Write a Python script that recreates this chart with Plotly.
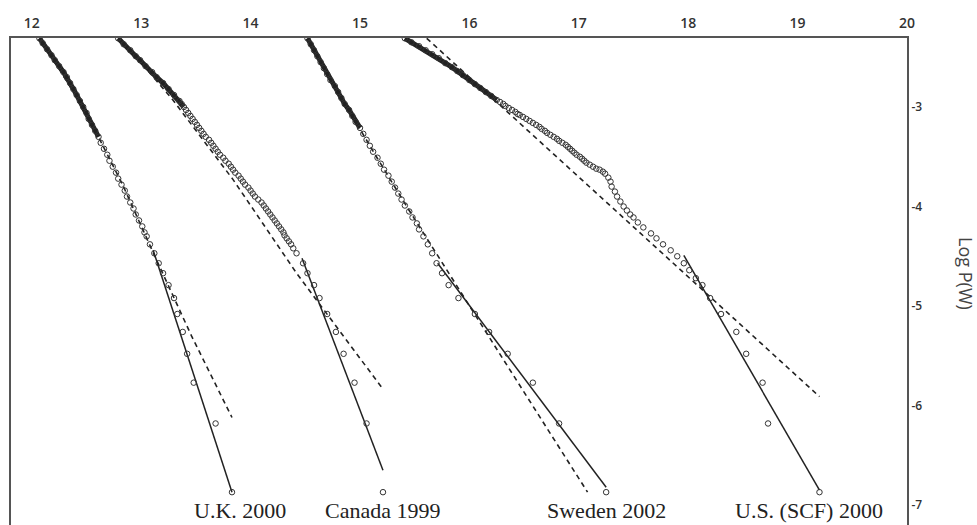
import plotly.graph_objects as go

# ---------------- data ----------------
x_ticks = [12, 13, 14, 15, 16, 17, 18, 19, 20]
y_ticks = [-3, -4, -5, -6, -7]
x_range = [11.81, 20.0]
y_range = [-7.2, -2.307]

labels = ["U.K. 2000", "Canada 1999", "Sweden 2002", "U.S. (SCF) 2000"]
label_x = [13.90, 15.21, 17.25, 19.10]

# U.K. 2000
uk_y = [-2.31, -2.36, -2.42, -2.48, -2.53, -2.59, -2.65, -2.70, -2.76, -2.82, -2.88, -2.94,
        -3.00, -3.06, -3.12, -3.18, -3.24, -3.30, -3.36, -3.42, -3.48, -3.54, -3.60, -3.66,
        -3.72, -3.78, -3.84, -3.90, -3.96, -4.02, -4.08, -4.14, -4.20, -4.26, -4.30, -4.38,
        -4.47, -4.57, -4.67, -4.79, -4.92, -5.08, -5.26, -5.48, -5.77, -6.18, -6.87]
uk_x = [12.07, 12.10, 12.14, 12.18, 12.21, 12.25, 12.29, 12.32, 12.35, 12.38, 12.41, 12.44,
        12.47, 12.50, 12.52, 12.55, 12.58, 12.61, 12.63, 12.66, 12.69, 12.71, 12.74, 12.77,
        12.79, 12.82, 12.85, 12.87, 12.90, 12.93, 12.95, 12.98, 13.01, 13.03, 13.05, 13.08,
        13.12, 13.16, 13.20, 13.25, 13.30, 13.33, 13.38, 13.42, 13.48, 13.68, 13.83]
uk_fit_x = [13.11, 13.83]
uk_fit_y = [-4.44, -6.87]
uk_dash_x = [12.07, 12.47, 12.83, 13.10, 13.46, 13.83]
uk_dash_y = [-2.31, -3.00, -3.78, -4.44, -5.30, -6.12]

# Canada 1999
ca_y = [-2.31, -2.37, -2.43, -2.49, -2.53, -2.59, -2.65, -2.70, -2.76, -2.82, -2.88,
        -2.94, -2.97, -3.00, -3.03, -3.06, -3.09, -3.12, -3.15, -3.18, -3.21, -3.24, -3.27,
        -3.30, -3.33, -3.36, -3.39, -3.42, -3.45, -3.48, -3.51, -3.54, -3.57, -3.60, -3.63,
        -3.66, -3.69, -3.72, -3.75, -3.78, -3.81, -3.84, -3.87, -3.90, -3.93, -3.96, -3.99,
        -4.02, -4.05, -4.08, -4.11, -4.14, -4.17, -4.20, -4.23, -4.26, -4.29, -4.32, -4.35,
        -4.38, -4.42, -4.47, -4.57, -4.67, -4.79, -4.92, -5.08, -5.26, -5.48, -5.77, -6.18,
        -6.87]
ca_x = [12.79, 12.84, 12.90, 12.95, 12.99, 13.04, 13.10, 13.14, 13.20, 13.25, 13.30,
        13.35, 13.37, 13.39, 13.41, 13.43, 13.45, 13.47, 13.49, 13.51, 13.53, 13.55, 13.57,
        13.59, 13.62, 13.64, 13.66, 13.68, 13.70, 13.72, 13.75, 13.77, 13.80, 13.82, 13.84,
        13.86, 13.89, 13.91, 13.93, 13.95, 13.98, 14.00, 14.02, 14.04, 14.07, 14.10, 14.12,
        14.14, 14.16, 14.18, 14.20, 14.22, 14.24, 14.26, 14.28, 14.30, 14.31, 14.33, 14.35,
        14.37, 14.39, 14.42, 14.48, 14.52, 14.58, 14.63, 14.70, 14.78, 14.85, 14.95, 15.06,
        15.21]
ca_fit_x = [14.47, 15.21]
ca_fit_y = [-4.52, -6.65]
ca_dash_x = [12.79, 13.05, 13.29, 13.84, 14.42, 15.20]
ca_dash_y = [-2.31, -2.62, -2.93, -3.73, -4.67, -5.82]

# Sweden 2002
se_y = [-2.31, -2.37, -2.43, -2.49, -2.55, -2.61, -2.67, -2.73, -2.79, -2.85, -2.91, -2.97,
        -3.03, -3.09, -3.15, -3.21, -3.27, -3.33, -3.39, -3.45, -3.51, -3.57, -3.63, -3.69,
        -3.75, -3.81, -3.87, -3.93, -3.99, -4.05, -4.11, -4.17, -4.23, -4.30, -4.38, -4.47,
        -4.57, -4.67, -4.79, -4.92, -5.08, -5.26, -5.48, -5.77, -6.18, -6.87]
se_x = [14.52, 14.55, 14.58, 14.61, 14.64, 14.67, 14.70, 14.73, 14.77, 14.80, 14.83, 14.86,
        14.90, 14.93, 14.96, 15.00, 15.03, 15.06, 15.09, 15.12, 15.16, 15.19, 15.22, 15.26,
        15.29, 15.32, 15.35, 15.38, 15.41, 15.45, 15.48, 15.52, 15.54, 15.58, 15.62, 15.66,
        15.70, 15.75, 15.81, 15.90, 16.05, 16.18, 16.35, 16.58, 16.82, 17.25]
se_fit_x = [15.71, 17.25]
se_fit_y = [-4.57, -6.82]
se_dash_x = [14.52, 14.88, 15.15, 15.45, 16.26, 17.08]
se_dash_y = [-2.31, -3.00, -3.50, -4.04, -5.45, -6.87]

# U.S. (SCF) 2000
us_y = [-2.31, -2.35, -2.39, -2.43, -2.47, -2.51, -2.56, -2.60, -2.64, -2.68, -2.73, -2.77,
        -2.81, -2.85, -2.89, -2.93, -2.95, -2.97, -2.99, -3.01, -3.03, -3.05, -3.07, -3.08,
        -3.10, -3.12, -3.14, -3.16, -3.18, -3.20, -3.22, -3.24, -3.26, -3.28, -3.30, -3.32,
        -3.34, -3.36, -3.38, -3.40, -3.42, -3.44, -3.46, -3.48, -3.50, -3.52, -3.54, -3.56,
        -3.58, -3.60, -3.62, -3.63, -3.65, -3.67, -3.71, -3.75, -3.80, -3.85, -3.90, -3.95,
        -4.00, -4.04, -4.08, -4.11, -4.16, -4.21, -4.27, -4.32, -4.38, -4.44, -4.50, -4.57,
        -4.64, -4.72, -4.79, -4.92, -5.08, -5.26, -5.48, -5.77, -6.18, -6.87]
us_x = [15.41, 15.47, 15.54, 15.60, 15.66, 15.72, 15.78, 15.84, 15.89, 15.94, 16.00, 16.05,
        16.10, 16.15, 16.20, 16.25, 16.28, 16.31, 16.33, 16.36, 16.39, 16.42, 16.44, 16.46,
        16.49, 16.52, 16.55, 16.58, 16.61, 16.64, 16.66, 16.69, 16.71, 16.74, 16.77, 16.80,
        16.82, 16.85, 16.88, 16.90, 16.92, 16.94, 16.96, 16.98, 17.01, 17.03, 17.05, 17.07,
        17.10, 17.13, 17.16, 17.19, 17.22, 17.24, 17.27, 17.29, 17.30, 17.33, 17.35, 17.38,
        17.41, 17.44, 17.47, 17.50, 17.54, 17.59, 17.66, 17.71, 17.77, 17.84, 17.90, 17.96,
        18.01, 18.07, 18.13, 18.20, 18.30, 18.44, 18.53, 18.68, 18.73, 19.20]
us_fit_x = [17.96, 19.20]
us_fit_y = [-4.49, -6.85]
us_dash_x = [15.61, 19.20]
us_dash_y = [-2.31, -5.91]

# where the sample is so dense that the circles merge into a band
band_limit = [-3.30, -3.00, -3.25, -2.93]

series = [
    (uk_x, uk_y, uk_fit_x, uk_fit_y, uk_dash_x, uk_dash_y),
    (ca_x, ca_y, ca_fit_x, ca_fit_y, ca_dash_x, ca_dash_y),
    (se_x, se_y, se_fit_x, se_fit_y, se_dash_x, se_dash_y),
    (us_x, us_y, us_fit_x, us_fit_y, us_dash_x, us_dash_y),
]

# ---------------- figure ----------------
INK = "#222222"
fig = go.Figure()

for i, (px, py, fx, fy, dx, dy) in enumerate(series):
    # dashed reference curve
    fig.add_trace(go.Scatter(x=dx, y=dy, mode="lines",
                             line=dict(color=INK, width=1.6, dash="5px,4px"),
                             hoverinfo="skip", showlegend=False))
    # solid tail fit
    fig.add_trace(go.Scatter(x=fx, y=fy, mode="lines",
                             line=dict(color=INK, width=1.5),
                             hoverinfo="skip", showlegend=False))
    # dense band
    bx = [a for a, b in zip(px, py) if b >= band_limit[i]]
    by = [b for b in py if b >= band_limit[i]]
    fig.add_trace(go.Scatter(x=bx, y=by, mode="lines",
                             line=dict(color=INK, width=5),
                             hoverinfo="skip", showlegend=False))
    # sample points
    fig.add_trace(go.Scatter(x=px, y=py, mode="markers",
                             marker=dict(symbol="circle-open", size=5.5,
                                         color="#333333", line=dict(width=1.0)),
                             name=labels[i], showlegend=False))

for i, lab in enumerate(labels):
    fig.add_annotation(x=label_x[i], y=0, xref="x", yref="paper", text=lab,
                       showarrow=False, xanchor="center", yanchor="bottom",
                       font=dict(family="Liberation Serif", size=22, color="#222222"))

fig.add_annotation(x=1.066, y=0.517, xref="paper", yref="paper", text="Log P(W)",
                   textangle=90, showarrow=False, xanchor="center", yanchor="middle",
                   font=dict(family="Open Sans", size=18, color="#444444"))

fig.update_layout(
    width=977, height=525,
    margin=dict(l=11, r=70, t=38, b=0),
    paper_bgcolor="white", plot_bgcolor="white",
    xaxis=dict(side="top", range=x_range, tickvals=x_ticks, ticktext=[str(v) for v in x_ticks],
               showgrid=False, zeroline=False, showline=True, linecolor="#555555", linewidth=2,
               ticks="", ticklabelstandoff=2,
               tickfont=dict(family="Open Sans", size=14, color="#333333", weight=600)),
    yaxis=dict(side="right", range=y_range, tickvals=y_ticks, ticktext=[str(v) for v in y_ticks],
               showgrid=False, zeroline=False, showline=True, mirror=True,
               linecolor="#555555", linewidth=2, ticks="",
               tickfont=dict(family="Open Sans", size=12, color="#333333", weight=600)),
)

fig.write_html("out.html", config={"displayModeBar": False},
               post_script="document.body.style.margin='0px';document.body.style.padding='0px';")
